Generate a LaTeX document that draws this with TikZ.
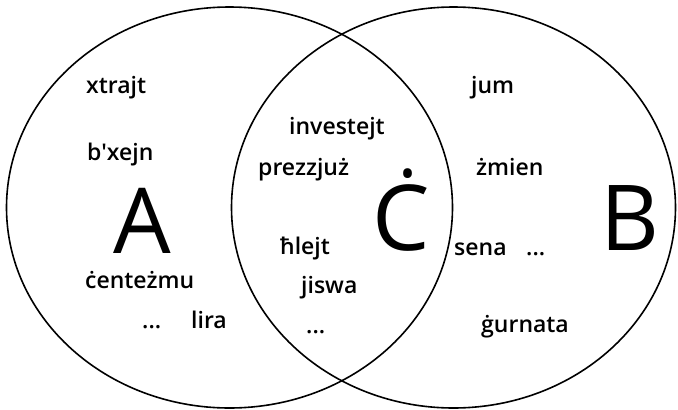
\documentclass[tikz,border=0pt]{standalone}
\usepackage{fontspec}
\newfontfamily\wordfont{Open Sans Semibold}
\newfontfamily\namefont{Open Sans}
\usepackage{tikz}
\usetikzlibrary{positioning}
\tikzset{
  set-border/.style={draw=black,line width=1.6pt},
  set-word/.style={font=\wordfont\fontsize{23}{23}\selectfont,anchor=base west,inner sep=0pt},
  set-name/.style={font=\namefont\fontsize{91}{91}\selectfont,anchor=base west,inner sep=0pt},
}

\begin{document}
\begin{tikzpicture}[x=1pt, y=-1pt]
  \useasboundingbox (0,0) rectangle (678,410);
  % the two sets
  \draw[set-border] (229.5,207.5) ellipse [x radius=223pt, y radius=200.5pt];
  \draw[set-border] (453.5,207.5) ellipse [x radius=222pt, y radius=200.5pt];
  % set names
  \node[set-name] (name-a) at (113,253) {A};
  \node[set-name] (name-c) at (372,250) {Ċ};
  \node[set-name] (name-b) at (600,250) {B};
  % only in A
  \node[set-word] (w-xtrajt) at (86,93) {xtrajt};
  \node[set-word] (w-bxejn) at (87,160) {b'xejn};
  \node[set-word] (w-centezmu) at (85,288) {ċenteżmu};
  \node[set-word] (w-dots-a) at (142,328) {...};
  \node[set-word] (w-lira) at (191,328) {lira};
  % in A and B
  \node[set-word] (w-investejt) at (289,134) {investejt};
  \node[set-word] (w-prezzjuz) at (258,175) {prezzjuż};
  \node[set-word] (w-hlejt) at (280,254) {ħlejt};
  \node[set-word] (w-jiswa) at (301,293) {jiswa};
  \node[set-word] (w-dots-c) at (306,333) {...};
  % only in B
  \node[set-word] (w-jum) at (471,93) {jum};
  \node[set-word] (w-zmien) at (476,175) {żmien};
  \node[set-word] (w-sena) at (454,255) {sena};
  \node[set-word] (w-dots-b) at (526,255) {...};
  \node[set-word] (w-gurnata) at (481,332) {ġurnata};
\end{tikzpicture}
\end{document}
